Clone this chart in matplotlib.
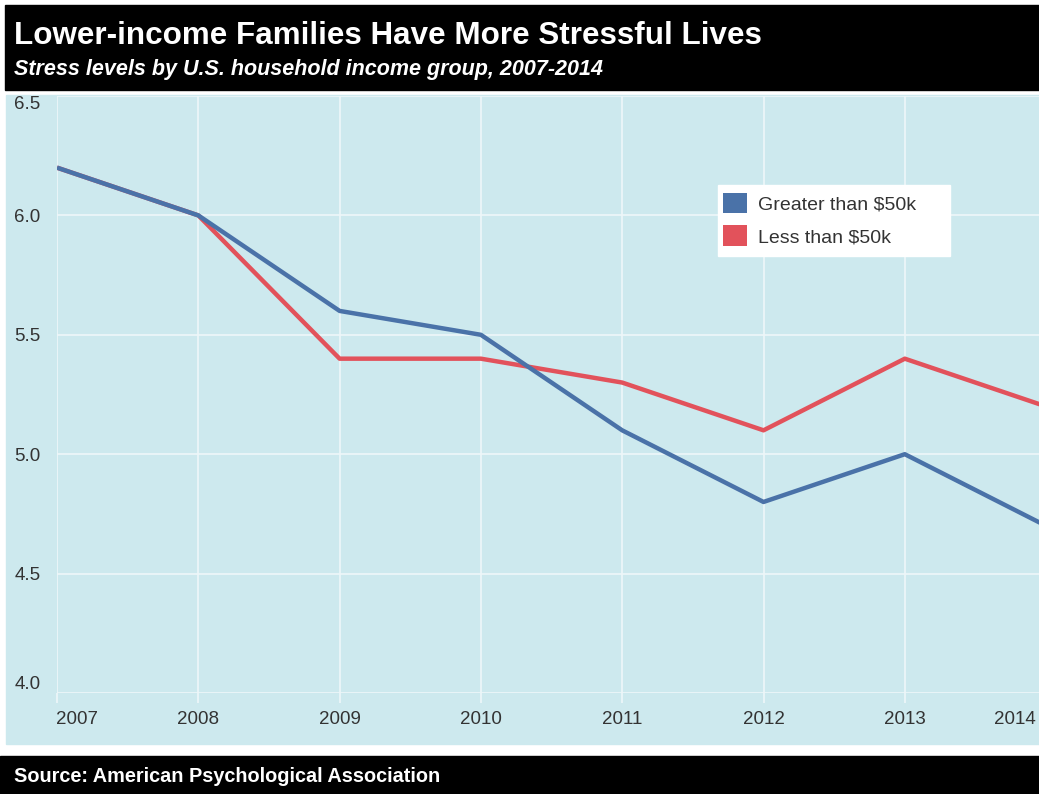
import matplotlib
matplotlib.use("Agg")
import matplotlib.pyplot as plt
import matplotlib.transforms as mtrans
from matplotlib.patches import Rectangle, Patch

plt.rcParams['font.family'] = ['Liberation Sans', 'DejaVu Sans']

# data
years = [2007, 2008, 2009, 2010, 2011, 2012, 2013, 2014]
greater_50k = [6.2, 6.0, 5.6, 5.5, 5.1, 4.8, 5.0, 4.7]
less_50k = [6.2, 6.0, 5.4, 5.4, 5.3, 5.1, 5.4, 5.2]
y_ticks = [4.0, 4.5, 5.0, 5.5, 6.0, 6.5]
labels = ['Greater than $50k', 'Less than $50k']

blue = '#4a72a8'
red = '#e2525b'
panel = '#cde9ee'
grid_c = '#eef7f9'

W, H = 1039, 794
fig = plt.figure(figsize=(W / 100, H / 100), dpi=100)
fig.patch.set_facecolor('white')

# header / panel / footer blocks (pixel coords -> figure fraction)
def px_rect(x0, y0, x1, y1, color):
    fig.add_artist(Rectangle((x0 / W, 1 - y1 / H), (x1 - x0) / W, (y1 - y0) / H,
                             transform=fig.transFigure, color=color, zorder=-1))

px_rect(5, 5, W, 90, 'black')
px_rect(6, 95, W, 744, panel)
px_rect(0, 756, W, H, 'black')

fig.text(14 / W, 1 - 36 / H, 'Lower-income Families Have More Stressful Lives',
         color='white', fontsize=22.6, fontweight='bold', va='center', ha='left')
fig.text(14 / W, 1 - 69 / H, 'Stress levels by U.S. household income group, 2007-2014',
         color='white', fontsize=15.5, fontweight='bold', style='italic', va='center', ha='left')
fig.text(14 / W, 1 - 776 / H, 'Source: American Psychological Association',
         color='white', fontsize=14.3, fontweight='bold', va='center', ha='left')

# plot area
ax = fig.add_axes([57 / W, 1 - 693 / H, (W - 57) / W, (693 - 96) / H])
ax.set_facecolor(panel)
for s in ax.spines.values():
    s.set_visible(False)

ax.plot(years, greater_50k, color=blue, lw=3.2, zorder=3, solid_capstyle='butt')
ax.plot(years, less_50k, color=red, lw=3.2, zorder=2, solid_capstyle='butt')

ax.set_xlim(2007, 2007 + (W - 57) / 141.3)
ax.set_ylim(4.0, 6.5)
ax.set_xticks(years[:-1])
ax.set_yticks(y_ticks)
ax.set_yticklabels([f'{v:.1f}' for v in y_ticks])
ax.grid(True, color=grid_c, lw=1.2)
ax.set_axisbelow(True)
ax.tick_params(axis='x', colors=grid_c, length=7, width=1.2, pad=6,
               labelcolor='#333333', labelsize=13.5)
ax.tick_params(axis='y', length=0, pad=12, labelcolor='#333333', labelsize=13.5)

# edge labels pulled inside the panel like the original
xlabs = ax.get_xticklabels()
xlabs[0].set_transform(xlabs[0].get_transform() + mtrans.ScaledTranslation(20 / 100, 0, fig.dpi_scale_trans))
ylabs = ax.get_yticklabels()
ylabs[0].set_va('bottom')
ylabs[-1].set_va('top')
# last year sits just past the right edge; draw its label inside
ax.text(years[-1], 0, str(years[-1]), color='#333333', fontsize=13.5, ha='right', va='top',
        transform=mtrans.blended_transform_factory(ax.transData, ax.transAxes)
        + mtrans.ScaledTranslation(-10 / 100, -18 / 100, fig.dpi_scale_trans), clip_on=False)

# legend: white box drawn separately so it can carry the wide right margin
ax.add_patch(Rectangle((718 / W, 1 - 256 / H), (950 - 718) / W, (256 - 185) / H,
                       transform=fig.transFigure, color='white', zorder=4, clip_on=False))
handles = [Patch(facecolor=blue, edgecolor='none'), Patch(facecolor=red, edgecolor='none')]
leg = ax.legend(handles, labels, loc='upper left',
                bbox_to_anchor=((714 - 57) / (W - 57), (693 - 184) / (693 - 96)),
                frameon=False, fontsize=14, handlelength=1.25, handleheight=1.25,
                handletextpad=0.55, labelspacing=0.6, borderpad=0.45, borderaxespad=0)
leg.set_zorder(5)
for t in leg.get_texts():
    t.set_color('#333333')

fig.savefig('out.png', dpi=100)
